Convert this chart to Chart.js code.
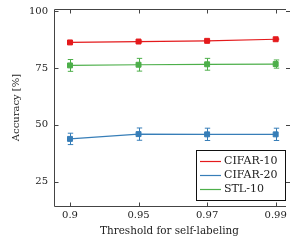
<!DOCTYPE html>
<html>
<head>
<meta charset="utf-8">
<script src="https://cdn.jsdelivr.net/npm/chart.js@4.4.1/dist/chart.umd.min.js"></script>
<style>
  html, body { margin: 0; padding: 0; background: #fff; }
</style>
</head>
<body>
<canvas id="chart" width="290" height="243"></canvas>
<script>
// Data
const thresholds = ['0.9', '0.95', '0.97', '0.99'];
const yTickValues = [25, 50, 75, 100];
const seriesNames = ['CIFAR-10', 'CIFAR-20', 'STL-10'];
const cifar10 = [86.2, 86.6, 86.9, 87.6];
const cifar10Err = [0.2, 0.2, 0.2, 0.2];
const cifar20 = [43.8, 45.9, 45.8, 45.8];
const cifar20Err = [2.5, 2.7, 2.7, 2.7];
const stl10 = [76.1, 76.4, 76.6, 76.7];
const stl10Err = [2.6, 2.8, 2.6, 1.8];

const colors = ['rgb(228,26,28)', 'rgb(55,126,184)', 'rgb(77,175,74)'];
const FONT = 'DejaVu Serif';
const AXIS = '#444';

function toPoints(values) {
    return values.map((v, i) => ({ x: i, y: v }));
}

function makeDataset(label, values, errors, color) {
    return {
        label: label,
        data: toPoints(values),
        errors: errors,
        color: color,
        borderColor: color,
        backgroundColor: color,
        borderWidth: 1.2,
        pointStyle: 'rect',
        pointRadius: 3.5,
        pointBorderWidth: 1,
        pointBorderColor: color,
        pointBackgroundColor: color,
        tension: 0
    };
}

// Vertical error bars with caps, positioned through the chart scales
const errorBars = {
    id: 'errorBars',
    beforeDatasetsDraw(chart) {
        const ctx = chart.ctx;
        const xs = chart.scales.x, ys = chart.scales.y;
        chart.data.datasets.forEach(ds => {
            ctx.save();
            ctx.strokeStyle = ds.color;
            ctx.lineWidth = 1;
            ds.data.forEach((p, i) => {
                const e = ds.errors[i];
                const px = Math.round(xs.getPixelForValue(p.x)) + 0.5;
                const top = ys.getPixelForValue(p.y + e);
                const bot = ys.getPixelForValue(p.y - e);
                ctx.beginPath();
                ctx.moveTo(px, top); ctx.lineTo(px, bot);
                ctx.moveTo(px - 2.7, top); ctx.lineTo(px + 2.7, top);
                ctx.moveTo(px - 2.7, bot); ctx.lineTo(px + 2.7, bot);
                ctx.stroke();
            });
            ctx.restore();
        });
    }
};

// Axis frame with inward ticks, pgfplots style (right edge falls off the picture)
const frame = {
    id: 'frame',
    afterDraw(chart) {
        const ctx = chart.ctx;
        const a = chart.chartArea;
        const xs = chart.scales.x, ys = chart.scales.y;
        const L = Math.round(a.left) + 0.5, T = Math.round(a.top) + 0.5, B = Math.round(a.bottom) + 0.5;
        const R = chart.width;
        ctx.save();
        ctx.strokeStyle = AXIS;
        ctx.lineWidth = 1;
        ctx.beginPath();
        ctx.moveTo(L, T); ctx.lineTo(R - 4, T);
        ctx.moveTo(L, T); ctx.lineTo(L, B);
        ctx.moveTo(L, B); ctx.lineTo(R - 4, B);
        xs.ticks.forEach(t => {
            const px = Math.round(xs.getPixelForValue(t.value)) + 0.5;
            ctx.moveTo(px, B); ctx.lineTo(px, B - 4);
            ctx.moveTo(px, T); ctx.lineTo(px, T + 4);
        });
        ys.ticks.forEach(t => {
            const py = Math.round(ys.getPixelForValue(t.value)) + 0.5;
            ctx.moveTo(L, py); ctx.lineTo(L + 4, py);
            ctx.moveTo(R, py); ctx.lineTo(R - 4, py);
        });
        ctx.stroke();
        ctx.restore();
    }
};

// Boxed legend in the lower right of the plot area
const boxLegend = {
    id: 'boxLegend',
    afterDraw(chart) {
        const ctx = chart.ctx;
        const x0 = 196.5, y0 = 150.5, w = 89, h = 50;
        ctx.save();
        ctx.fillStyle = '#fff';
        ctx.fillRect(x0, y0, w, h);
        ctx.strokeStyle = '#111';
        ctx.lineWidth = 1;
        ctx.strokeRect(x0, y0, w, h);
        ctx.font = '11px "' + FONT + '"';
        ctx.textBaseline = 'middle';
        chart.data.datasets.forEach((ds, i) => {
            const cy = 160.5 + i * 14.3;
            ctx.strokeStyle = ds.color;
            ctx.lineWidth = 1.2;
            ctx.beginPath();
            ctx.moveTo(200, Math.round(cy) + 0.5);
            ctx.lineTo(221, Math.round(cy) + 0.5);
            ctx.stroke();
            ctx.fillStyle = '#222';
            ctx.fillText(ds.label, 224, cy + 0.5);
        });
        ctx.restore();
    }
};

new Chart(document.getElementById('chart'), {
    type: 'line',
    data: {
        datasets: [
            makeDataset(seriesNames[0], cifar10, cifar10Err, colors[0]),
            makeDataset(seriesNames[1], cifar20, cifar20Err, colors[1]),
            makeDataset(seriesNames[2], stl10, stl10Err, colors[2])
        ]
    },
    options: {
        responsive: false,
        animation: false,
        devicePixelRatio: 1,
        layout: { padding: { top: 9, right: 0, left: 0, bottom: 0 } },
        plugins: {
            legend: { display: false },
            tooltip: { enabled: false }
        },
        scales: {
            x: {
                type: 'linear',
                min: -0.233,
                max: 3.136,
                grid: { display: false, drawTicks: false },
                border: { display: false },
                afterBuildTicks: scale => {
                    scale.ticks = thresholds.map((t, i) => ({ value: i }));
                },
                afterFit: scale => {
                    scale.height = 37;
                    scale.paddingLeft = 0;
                    scale.paddingRight = 0;
                },
                ticks: {
                    padding: 3,
                    color: '#222',
                    maxRotation: 0,
                    font: { family: FONT, size: 10 },
                    callback: v => thresholds[v]
                },
                title: {
                    display: true,
                    text: 'Threshold for self-labeling',
                    color: '#222',
                    font: { family: FONT, size: 10.4 },
                    padding: { top: 0, bottom: 5 }
                }
            },
            y: {
                min: 14.3,
                max: 100.9,
                grid: { display: false, drawTicks: false },
                border: { display: false },
                afterBuildTicks: scale => {
                    scale.ticks = yTickValues.map(v => ({ value: v }));
                },
                afterFit: scale => {
                    scale.width = 54;
                    scale.paddingTop = 0;
                    scale.paddingBottom = 0;
                },
                ticks: {
                    padding: 6,
                    color: '#222',
                    font: { family: FONT, size: 10 }
                },
                title: {
                    display: true,
                    text: 'Accuracy [%]',
                    color: '#222',
                    font: { family: FONT, size: 10 },
                    padding: { top: 10, bottom: 0 }
                }
            }
        }
    },
    plugins: [errorBars, frame, boxLegend]
});
</script>
</body>
</html>
